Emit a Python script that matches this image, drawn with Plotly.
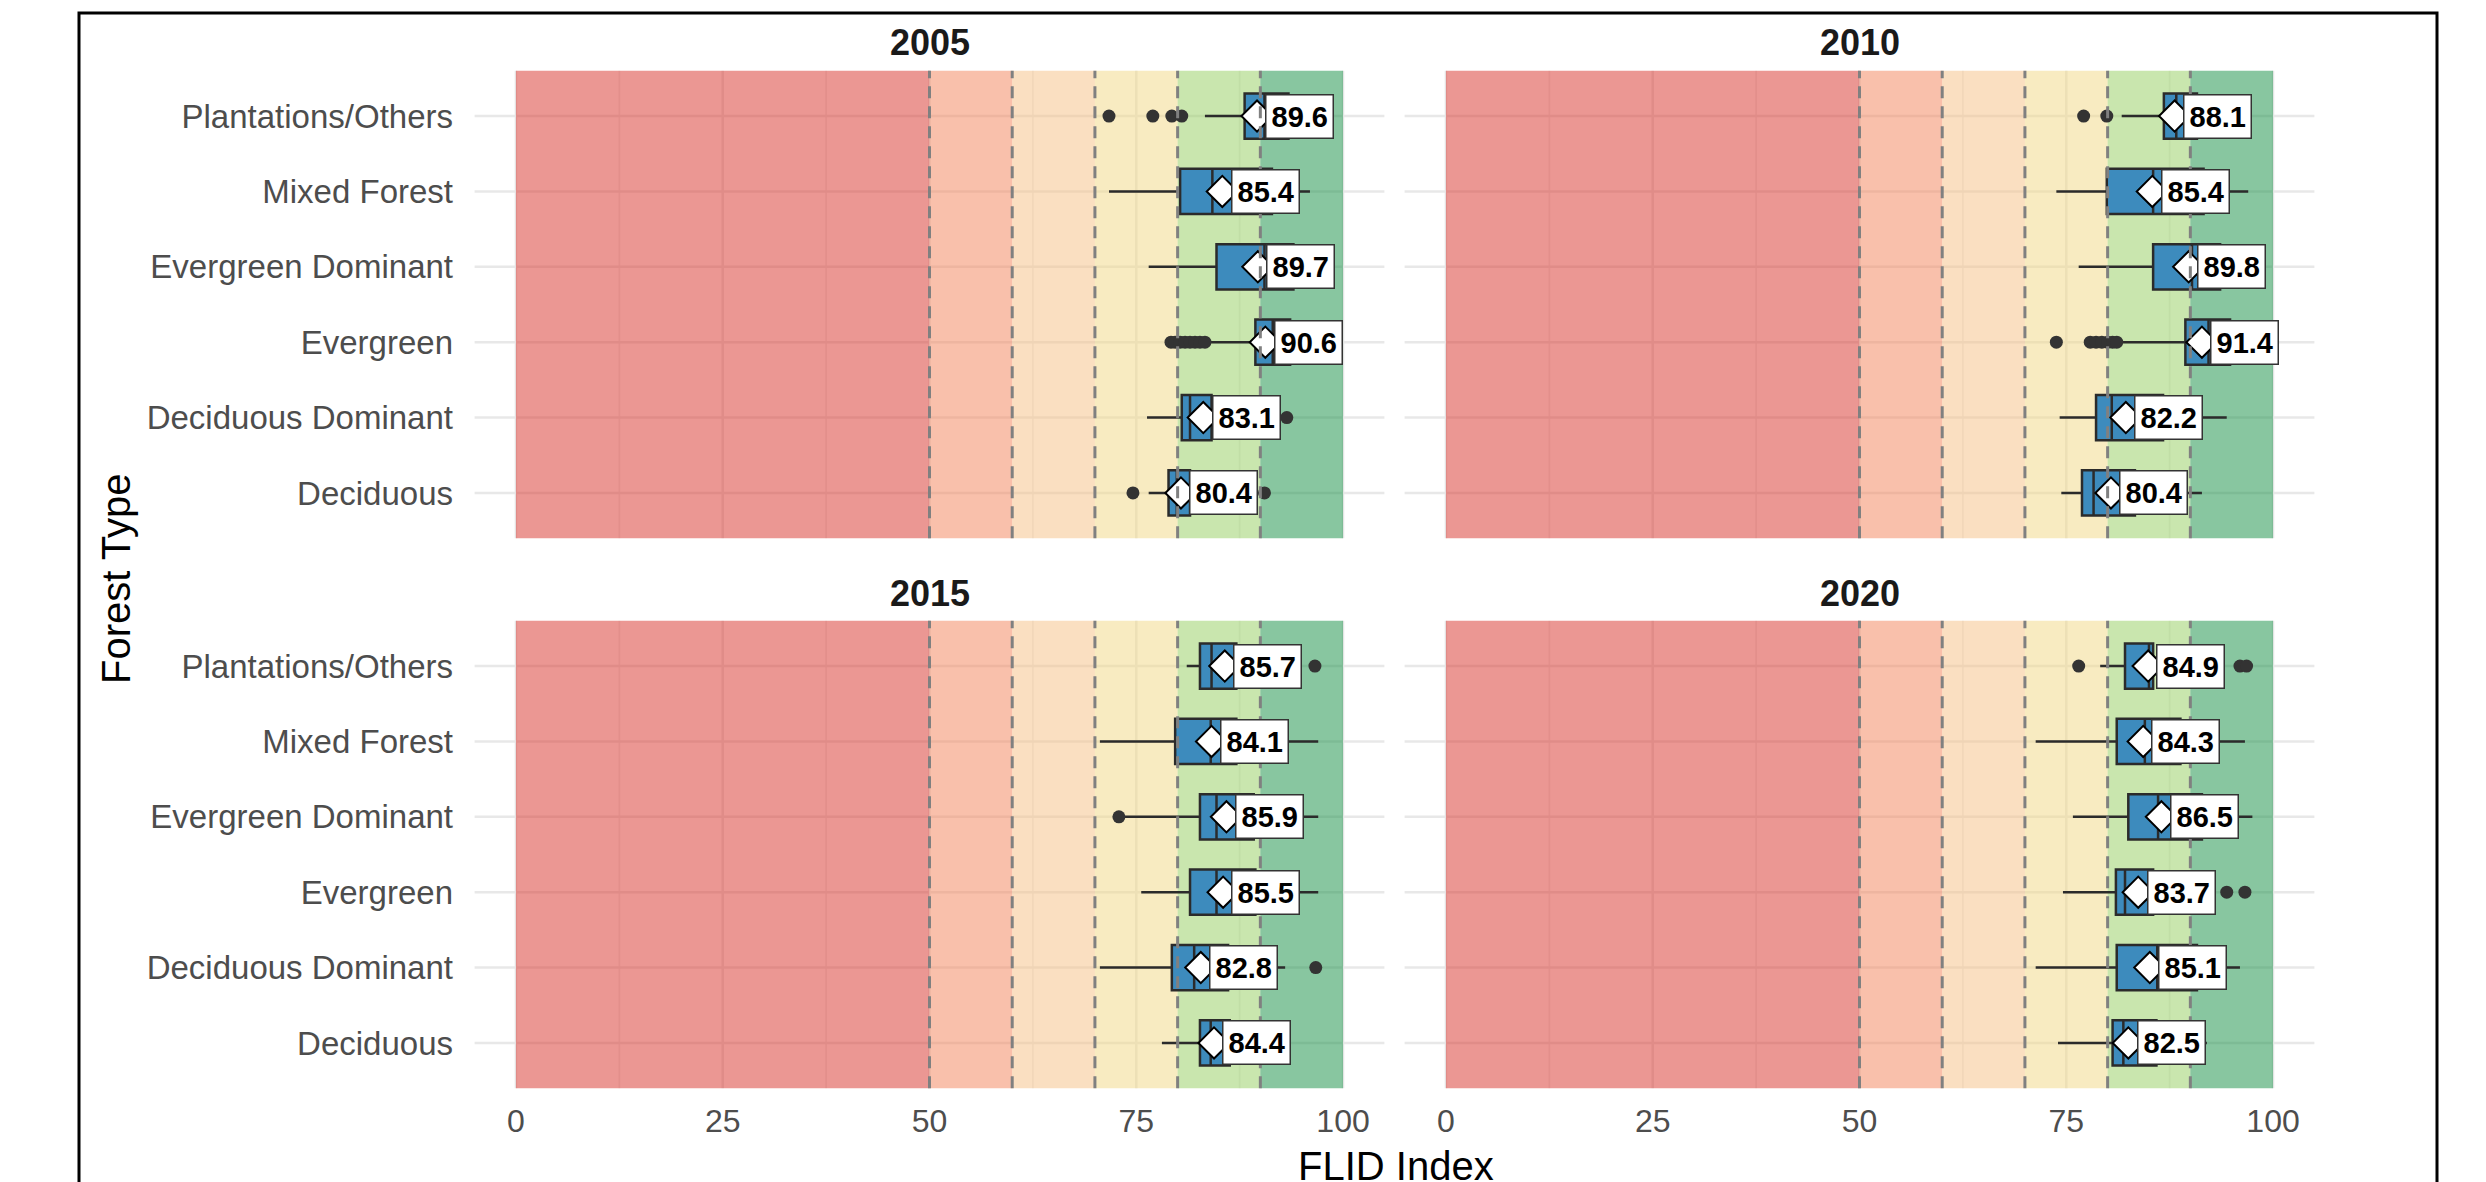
import plotly.graph_objects as go

W, H = 2486, 1182
PAGE_OFFSET = 8  # default body margin of the html page

categories = ["Deciduous", "Deciduous Dominant", "Evergreen",
              "Evergreen Dominant", "Mixed Forest", "Plantations/Others"]
years = ["2005", "2010", "2015", "2020"]

q1_2005 = [78.9, 80.5, 89.4, 84.7, 80.3, 88.1]
med_2005 = [79.9, 81.5, 91.5, 90.5, 84.2, 90.5]
q3_2005 = [81.5, 84.1, 93.6, 94.0, 91.4, 93.4]
lo_2005 = [76.5, 76.3, 83.9, 76.5, 71.7, 83.3]
hi_2005 = [84.5, 88.0, 98.5, 98.5, 96.0, 98.0]
mean_2005 = [80.4, 83.1, 90.6, 89.7, 85.4, 89.6]
out_cat_2005 = ["Deciduous", "Deciduous", "Deciduous Dominant",
                "Plantations/Others", "Plantations/Others", "Plantations/Others", "Plantations/Others",
                "Evergreen", "Evergreen", "Evergreen", "Evergreen", "Evergreen", "Evergreen", "Evergreen", "Evergreen"]
out_val_2005 = [74.6, 90.5, 93.2,
                71.7, 77.0, 79.3, 80.5,
                79.2, 79.7, 80.3, 80.9, 81.5, 82.1, 82.7, 83.3]

q1_2010 = [76.9, 78.6, 89.4, 85.5, 79.9, 86.8]
med_2010 = [78.3, 80.5, 92.2, 90.2, 85.5, 88.3]
q3_2010 = [83.3, 86.7, 94.8, 93.6, 91.6, 90.8]
lo_2010 = [74.4, 74.2, 81.5, 76.5, 73.8, 81.7]
hi_2010 = [91.4, 94.4, 99.0, 98.5, 97.0, 95.5]
mean_2010 = [80.4, 82.2, 91.4, 89.8, 85.4, 88.1]
out_cat_2010 = ["Plantations/Others", "Plantations/Others",
                "Evergreen", "Evergreen", "Evergreen", "Evergreen", "Evergreen", "Evergreen", "Evergreen"]
out_val_2010 = [77.1, 79.9,
                73.8, 77.9, 78.6, 79.3, 80.0, 80.6, 81.1]

q1_2015 = [82.7, 79.3, 81.5, 82.7, 79.7, 82.7]
med_2015 = [84.0, 82.0, 84.7, 84.7, 84.0, 84.1]
q3_2015 = [86.3, 86.1, 89.4, 89.2, 87.1, 87.1]
lo_2015 = [78.1, 70.6, 75.6, 73.3, 70.6, 81.1]
hi_2015 = [90.5, 93.0, 97.0, 97.0, 97.0, 92.5]
mean_2015 = [84.4, 82.8, 85.5, 85.9, 84.1, 85.7]
out_cat_2015 = ["Plantations/Others", "Deciduous Dominant", "Evergreen Dominant"]
out_val_2015 = [96.6, 96.7, 72.9]

q1_2020 = [80.6, 81.1, 81.0, 82.5, 81.1, 82.1]
med_2020 = [81.9, 86.0, 82.1, 86.1, 84.5, 85.0]
q3_2020 = [85.9, 90.8, 85.5, 91.4, 88.8, 85.5]
lo_2020 = [74.0, 71.3, 74.6, 75.8, 71.3, 79.1]
hi_2020 = [92.0, 96.0, 91.5, 97.5, 96.6, 90.0]
mean_2020 = [82.5, 85.1, 83.7, 86.5, 84.3, 84.9]
out_cat_2020 = ["Plantations/Others", "Plantations/Others", "Plantations/Others",
                "Evergreen", "Evergreen"]
out_val_2020 = [76.5, 96.0, 96.8, 94.4, 96.6]

band_edges = [0, 50, 60, 70, 80, 90, 100]
band_colors = ["rgba(215,48,39,0.5)", "rgba(243,129,87,0.5)", "rgba(245,191,131,0.5)",
               "rgba(241,215,131,0.5)", "rgba(147,205,93,0.5)", "rgba(17,141,65,0.5)"]
threshold_lines = [50, 60, 70, 80, 90]
x_ticks = [0, 25, 50, 75, 100]
x_minor = [12.5, 37.5, 62.5, 87.5]
x_range = [-5, 105]

panels = [
    (q1_2005, med_2005, q3_2005, lo_2005, hi_2005, mean_2005, out_cat_2005, out_val_2005),
    (q1_2010, med_2010, q3_2010, lo_2010, hi_2010, mean_2010, out_cat_2010, out_val_2010),
    (q1_2015, med_2015, q3_2015, lo_2015, hi_2015, mean_2015, out_cat_2015, out_val_2015),
    (q1_2020, med_2020, q3_2020, lo_2020, hi_2020, mean_2020, out_cat_2020, out_val_2020),
]

FONT = "Liberation Sans, Arial, sans-serif"

def px_x(p):
    return (p - PAGE_OFFSET) / W

def px_y(p):
    return 1 - (p - PAGE_OFFSET) / H

xdom = [[px_x(474.6), px_x(1384.4)], [px_x(1404.6), px_x(2314.4)]]
ydom = [[px_y(538.2), px_y(70.8)], [px_y(1088.2), px_y(620.8)]]

fig = go.Figure()
shapes = []
annotations = []

for i, (q1, med, q3, lo, hi, mn, oc, ov) in enumerate(panels):
    k = "" if i == 0 else str(i + 1)
    xr, yr = "x" + k, "y" + k
    fig.add_trace(go.Box(
        y=categories, q1=q1, median=med, q3=q3, lowerfence=lo, upperfence=hi,
        orientation="h", width=0.6, boxpoints=False,
        fillcolor="#3D8BBD", line=dict(color="#2B2B2B", width=2.5),
        whiskerwidth=0, xaxis=xr, yaxis=yr, showlegend=False, hoverinfo="skip"))
    fig.add_trace(go.Scatter(
        x=ov, y=oc, mode="markers", xaxis=xr, yaxis=yr, showlegend=False,
        marker=dict(color="#333333", size=13, line=dict(width=0)), hoverinfo="skip"))
    fig.add_trace(go.Scatter(
        x=mn, y=categories, mode="markers", xaxis=xr, yaxis=yr, showlegend=False,
        marker=dict(symbol="diamond", color="white", size=24,
                    line=dict(color="black", width=2)), hoverinfo="skip"))
    for c, m in zip(categories, mn):
        annotations.append(dict(
            x=m + 1.0, y=c, xref=xr, yref=yr, text=f"<b>{m:.1f}</b>",
            showarrow=False, xanchor="left", yanchor="middle",
            font=dict(family=FONT, size=29, color="black"),
            bgcolor="white", bordercolor="#333333", borderwidth=1.5, borderpad=5))
    # grid lines (drawn first, under the translucent bands, same drawing layer)
    for g in x_minor:
        shapes.append(dict(type="line", xref=xr, yref=yr + " domain", x0=g, x1=g, y0=0, y1=1,
                           line=dict(color="#EFEFEF", width=1.8), layer="below"))
    for g in x_ticks:
        shapes.append(dict(type="line", xref=xr, yref=yr + " domain", x0=g, x1=g, y0=0, y1=1,
                           line=dict(color="#E8E8E8", width=2.5), layer="below"))
    for c in categories:
        shapes.append(dict(type="line", xref=xr + " domain", yref=yr, x0=0, x1=1, y0=c, y1=c,
                           line=dict(color="#E8E8E8", width=2.5), layer="below"))
    for j in range(6):
        shapes.append(dict(type="rect", xref=xr, yref=yr + " domain",
                           x0=band_edges[j], x1=band_edges[j + 1], y0=0, y1=1,
                           fillcolor=band_colors[j], line=dict(width=0), layer="below"))
    for t in threshold_lines:
        shapes.append(dict(type="line", xref=xr, yref=yr + " domain",
                           x0=t, x1=t, y0=0, y1=1,
                           line=dict(color="#808080", width=3, dash="12px,8px"), layer="above"))
    col, row = i % 2, i // 2
    bottom = row == 1
    left = col == 0
    fig.layout["xaxis" + k] = dict(
        domain=xdom[col], anchor=yr, range=x_range, tickvals=x_ticks,
        showticklabels=bottom, ticks="outside" if bottom else "", ticklen=4,
        tickcolor="rgba(0,0,0,0)", showline=False, zeroline=False, showgrid=False,
        tickfont=dict(family=FONT, size=32, color="#4D4D4D"))
    fig.layout["yaxis" + k] = dict(
        domain=ydom[row], anchor=xr, type="category", categoryorder="array",
        categoryarray=categories, range=[-0.6, 5.6],
        showticklabels=left, ticks="outside" if left else "", ticklen=14,
        tickcolor="rgba(0,0,0,0)", showline=False, zeroline=False, showgrid=False,
        tickfont=dict(family=FONT, size=33, color="#4D4D4D"))
    cx = (xdom[col][0] + xdom[col][1]) / 2
    cy = px_y(43) if row == 0 else px_y(593)
    annotations.append(dict(x=cx, y=cy, xref="paper", yref="paper",
                            text=f"<b>{years[i]}</b>", showarrow=False,
                            xanchor="center", yanchor="middle",
                            font=dict(family=FONT, size=36, color="#1A1A1A")))

annotations.append(dict(x=px_x(116), y=px_y(579), xref="paper", yref="paper",
                        text="Forest Type", textangle=-90, showarrow=False,
                        xanchor="center", yanchor="middle",
                        font=dict(family=FONT, size=40, color="black")))
annotations.append(dict(x=px_x(1396), y=px_y(1166), xref="paper", yref="paper",
                        text="FLID Index", showarrow=False,
                        xanchor="center", yanchor="middle",
                        font=dict(family=FONT, size=40, color="black")))

shapes.append(dict(type="rect", xref="paper", yref="paper",
                   x0=px_x(79), x1=px_x(2437), y0=-0.2, y1=px_y(13),
                   line=dict(color="black", width=3), fillcolor="rgba(0,0,0,0)", layer="above"))

fig.update_layout(
    width=W, height=H, margin=dict(l=0, r=0, t=0, b=0),
    paper_bgcolor="white", plot_bgcolor="white",
    shapes=shapes, annotations=annotations, showlegend=False,
    font=dict(family=FONT))

fig.write_html("out.html")
